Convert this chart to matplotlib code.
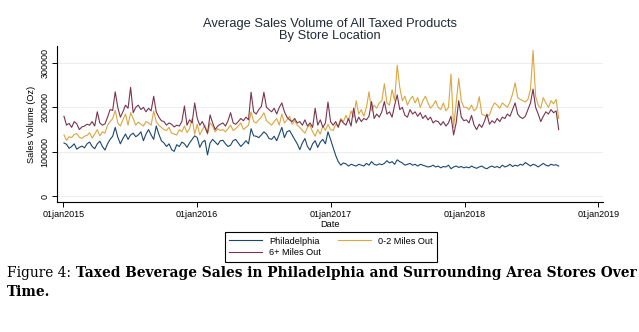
import matplotlib
matplotlib.use('Agg')
import matplotlib.pyplot as plt
import numpy as np
import pandas as pd

plt.rcParams['font.family'] = ['Liberation Sans', 'DejaVu Sans']

# weekly average sales volume, thousands of oz
philadelphia = [
    # 2015
    120, 117, 108, 112, 118, 106, 110, 113, 109, 118,
    122, 112, 107, 118, 124, 112, 104, 118, 128, 135,
    155, 133, 118, 130, 140, 128, 138, 142, 134, 138,
    145, 125, 140, 150, 138, 128, 158, 140, 125, 120,
    112, 118, 105, 101, 116, 112, 122, 118, 110, 120, 128, 136,
    # 2016
    132, 110, 122, 126, 93, 120, 128, 122, 116, 125,
    126, 118, 112, 115, 125, 128, 120, 112, 118, 125,
    118, 152, 136, 135, 132, 138, 145, 140, 130, 128,
    135, 125, 140, 155, 132, 145, 148, 138, 128, 118,
    105, 120, 130, 112, 104, 118, 125, 110, 122, 128, 118, 145, 128,
    # 2017
    110, 92, 78, 70, 75, 73, 68, 72, 70, 68,
    72, 70, 68, 74, 70, 78, 72, 70, 73, 71,
    74, 80, 75, 78, 72, 82, 78, 75, 70, 72,
    74, 70, 72, 68, 72, 70, 68, 66, 67, 70,
    66, 68, 64, 67, 66, 70, 62, 66, 68, 65, 67, 64,
    # 2018
    66, 64, 68, 65, 63, 66, 68, 64, 62, 66,
    68, 65, 67, 64, 70, 66, 68, 72, 67, 70,
    68, 72, 70, 76, 72, 68, 72, 70, 66, 70,
    74, 70, 68, 72, 70, 71, 68,
]

miles_0_2 = [
    # 2015
    138, 126, 134, 132, 139, 141, 133, 130, 135, 137,
    143, 131, 140, 150, 136, 145, 142, 160, 168, 175,
    193, 165, 158, 172, 185, 160, 188, 175, 160, 167,
    162, 158, 168, 165, 160, 192, 168, 160, 155, 150,
    148, 155, 142, 140, 138, 150, 145, 158, 143, 152, 175, 140,
    # 2016
    162, 138, 150, 160, 140, 165, 158, 145, 152, 148,
    150, 145, 152, 160, 148, 152, 158, 165, 150, 155,
    160, 190, 168, 165, 172, 178, 188, 170, 165, 160,
    168, 175, 160, 185, 165, 172, 180, 162, 170, 160,
    155, 148, 142, 155, 160, 145, 135, 150, 140, 158, 148, 162, 150,
    # 2017
    148, 162, 158, 175, 168, 182, 170, 192, 178, 215,
    185, 195, 180, 200, 235, 192, 205, 198, 210, 215,
    253, 210, 205, 240, 215, 295, 245, 215, 225, 205,
    218, 225, 210, 222, 200, 215, 225, 210, 198, 205,
    215, 200, 195, 210, 192, 200, 275, 155, 210, 265, 215, 200,
    # 2018
    200, 195, 205, 192, 198, 224, 185, 182, 180, 183,
    200, 210, 205, 198, 210, 205, 200, 212, 230, 255,
    222, 218, 215, 212, 218, 240, 328, 225, 205, 198,
    222, 210, 200, 215, 208, 218, 175,
]

miles_6_plus = [
    # 2015
    180, 160, 164, 155, 168, 163, 150, 156, 158, 162,
    160, 168, 158, 190, 165, 160, 163, 178, 195, 193,
    235, 200, 178, 190, 205, 198, 245, 188, 200, 205,
    195, 200, 190, 198, 192, 225, 190, 178, 170, 168,
    160, 165, 162, 156, 160, 158, 168, 203, 160, 172, 165, 210,
    # 2016
    175, 160, 168, 155, 142, 183, 165, 150, 158, 162,
    165, 158, 170, 188, 165, 162, 168, 175, 170, 178,
    172, 234, 190, 185, 195, 202, 234, 200, 195, 190,
    198, 185, 200, 210, 190, 178, 172, 168, 175, 165,
    168, 160, 172, 158, 165, 155, 198, 160, 172, 155, 165, 212, 168,
    # 2017
    160, 168, 155, 172, 165, 160, 175, 158, 198, 165,
    178, 168, 175, 172, 180, 213, 175, 185, 178, 190,
    213, 185, 190, 178, 205, 228, 195, 200, 182, 178,
    195, 185, 190, 180, 188, 175, 182, 172, 178, 165,
    170, 168, 160, 168, 158, 165, 180, 138, 165, 215, 178, 170,
    # 2018
    172, 165, 182, 160, 150, 162, 155, 168, 185, 162,
    170, 165, 175, 168, 178, 175, 185, 180, 195, 210,
    185, 178, 175, 180, 195, 210, 241, 200, 185, 168,
    180, 190, 185, 195, 188, 192, 150,
]

year_ticks = ['2015-01-01', '2016-01-01', '2017-01-01', '2018-01-01', '2019-01-01']
year_labels = ['01jan2015', '01jan2016', '01jan2017', '01jan2018', '01jan2019']
y_ticks = [0, 100000, 200000, 300000]

assert len(philadelphia) == len(miles_0_2) == len(miles_6_plus)
weeks = pd.date_range('2015-01-03', periods=len(philadelphia), freq='7D')

W, H = 639, 332
fig = plt.figure(figsize=(W / 100, H / 100), dpi=100)
ax = fig.add_axes([57 / W, 1 - 202 / H, 546 / W, 156 / H])

navy = '#1a476f'
gold = '#dca640'
maroon = '#7a3450'

l_phl, = ax.plot(weeks, np.array(philadelphia) * 1000, color=navy, lw=0.8, label='Philadelphia')
l_02, = ax.plot(weeks, np.array(miles_0_2) * 1000, color=gold, lw=0.8, label='0-2 Miles Out')
l_6p, = ax.plot(weeks, np.array(miles_6_plus) * 1000, color=maroon, lw=0.8, label='6+ Miles Out')

ax.set_xlim(pd.Timestamp('2014-12-15'), pd.Timestamp('2019-01-14'))
ax.set_ylim(-12800, 338000)
ax.set_xticks(pd.to_datetime(year_ticks))
ax.set_xticklabels(year_labels)
ax.set_yticks(y_ticks)
ax.set_yticklabels([str(v) for v in y_ticks], rotation=90, va='center')

ax.grid(axis='y', color='#e9eef0', lw=0.7)
ax.set_axisbelow(True)
for s in ['top', 'right']:
    ax.spines[s].set_visible(False)
for s in ['left', 'bottom']:
    ax.spines[s].set_linewidth(0.8)
ax.tick_params(length=3.5, width=0.7, labelsize=6.5, pad=2)
ax.set_ylabel('Sales Volume (Oz)', fontsize=6.7, labelpad=3)
ax.set_xlabel('Date', fontsize=6.7, labelpad=1)

fig.text(330 / W, 1 - 30 / H, 'Average Sales Volume of All Taxed Products\nBy Store Location',
         ha='center', va='center', fontsize=9.3, color='#222a35', linespacing=1.1)

leg = fig.legend(handles=[l_phl, l_6p, l_02], loc='center', bbox_to_anchor=(331 / W, 1 - 247 / H),
                 ncol=2, fontsize=6.6, frameon=True, fancybox=False, edgecolor='black',
                 framealpha=1, handlelength=3.6, handletextpad=0.75, columnspacing=1.9,
                 borderpad=0.5, labelspacing=0.3)
leg.get_frame().set_linewidth(0.8)

# caption: regular "Figure 4:" followed by bold text
cap_font = 'DejaVu Serif'
cap_size = 9.93
cap_y = 1 - 273 / H
t1 = fig.text(7 / W, cap_y, 'Figure 4:', family=cap_font, fontsize=cap_size, va='center')
r = fig.canvas.get_renderer()
bb = t1.get_window_extent(r)
fig.text(bb.x1 / W + 5 / W, cap_y,
         'Taxed Beverage Sales in Philadelphia and Surrounding Area Stores Over',
         family=cap_font, fontsize=cap_size, fontweight='bold', va='center')
fig.text(7 / W, 1 - 292 / H, 'Time.', family=cap_font, fontsize=cap_size,
         fontweight='bold', va='center')

fig.savefig('out.png', dpi=100)
